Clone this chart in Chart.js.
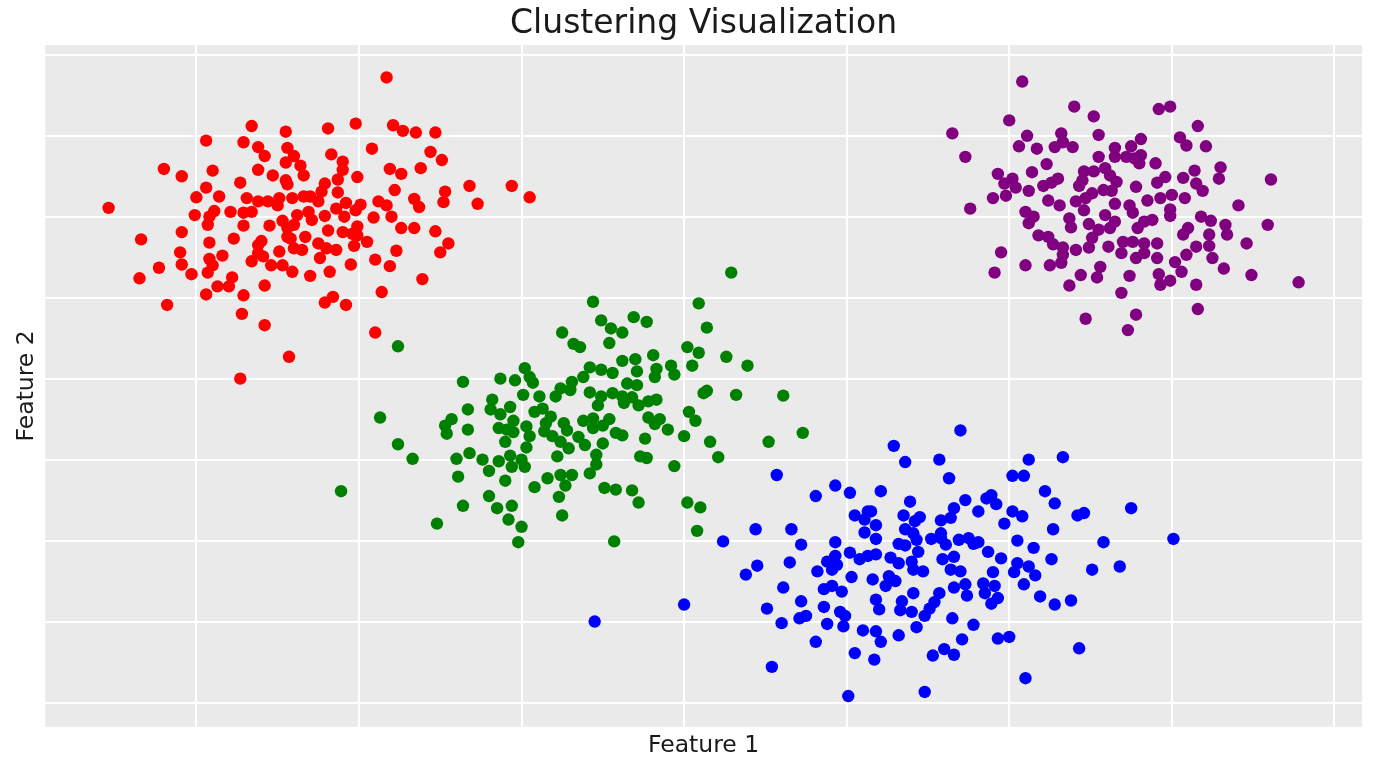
<!DOCTYPE html>
<html>
<head>
<meta charset="utf-8">
<script src="https://cdn.jsdelivr.net/npm/chart.js@4.4.1/dist/chart.umd.min.js"></script>
<style>
  html, body { margin: 0; padding: 0; background: #ffffff; }
  #wrap { width: 1376px; height: 768px; position: relative; }
</style>
</head>
<body>
<div id="wrap"><canvas id="cluster-chart"></canvas></div>
<script>
// cluster labels and points, [feature 1, feature 2]
const clusterNames = ["Cluster 0", "Cluster 1", "Cluster 2", "Cluster 3"];
const clusterColors = ["#ff0000", "#008000", "#0000ff", "#800080"];

const redPoints = [
  [0.34,7.12],[0.55,7.05],[0.06,6.94],[0.29,6.92],[0.38,6.86],[0.42,6.75],[0.56,6.85],[0.60,6.75],[0.55,6.67],[0.64,6.63],
  [0.66,6.51],[-0.20,6.59],[-0.09,6.50],[0.10,6.57],[0.38,6.58],[0.47,6.51],[0.55,6.45],[0.56,6.40],[0.27,6.42],[0.06,6.36],
  [0.00,6.24],[0.14,6.25],[0.31,6.23],[-0.54,6.11],[0.38,6.19],[0.44,6.19],[0.51,6.23],[0.50,6.14],[0.59,6.23],[0.66,6.25],
  [0.70,6.25],[-0.01,6.02],[0.08,6.00],[0.11,6.07],[0.07,5.90],[0.21,6.06],[0.29,6.05],[0.34,6.06],[0.29,5.89],[0.45,5.89],
  [0.53,5.95],[0.62,6.02],[0.69,6.06],[0.71,5.96],[0.56,5.86],[0.60,5.90],[-0.09,5.81],[-0.34,5.72],[0.23,5.73],[0.08,5.68],
  [0.38,5.65],[0.40,5.70],[0.56,5.75],[0.58,5.73],[0.67,5.75],[0.60,5.61],[0.65,5.59],[-0.10,5.56],[0.16,5.52],[0.51,5.57],
  [0.38,5.55],[0.41,5.51],[0.34,5.45],[0.08,5.48],[0.10,5.40],[-0.23,5.37],[-0.09,5.41],[0.07,5.31],[-0.03,5.29],[0.46,5.40],
  [0.53,5.40],[0.59,5.32],[0.70,5.27],[-0.35,5.24],[0.22,5.25],[0.13,5.14],[0.20,5.14],[0.42,5.15],[0.06,5.04],[0.29,5.03],
  [-0.18,4.91],[0.28,4.80],[0.42,4.66],[0.57,4.27],[0.27,4.00],
  [1.17,7.72],[0.81,7.09],[0.98,7.15],[1.21,7.13],[1.27,7.06],[1.35,7.04],[1.47,7.04],[0.83,6.77],[1.08,6.84],[1.44,6.80],
  [1.51,6.70],[0.90,6.68],[0.90,6.58],[0.87,6.46],[0.99,6.49],[1.19,6.59],[1.26,6.53],[1.38,6.60],[0.79,6.41],[0.77,6.31],
  [0.87,6.30],[0.75,6.19],[1.22,6.33],[1.68,6.38],[1.94,6.38],[2.05,6.24],[1.53,6.31],[1.52,6.18],[1.73,6.16],[1.34,6.22],
  [1.37,6.12],[1.12,6.19],[1.17,6.14],[0.86,6.10],[0.92,6.17],[1.01,6.15],[0.98,6.08],[0.79,6.01],[0.91,6.00],[1.09,5.99],
  [1.20,6.00],[1.26,5.86],[1.34,5.86],[1.47,5.82],[1.55,5.67],[1.50,5.56],[0.81,5.83],[0.90,5.81],[0.96,5.79],[0.99,5.88],
  [0.99,5.77],[1.05,5.69],[0.97,5.64],[0.75,5.67],[0.80,5.61],[0.86,5.59],[0.76,5.49],[1.23,5.58],[1.10,5.47],[1.19,5.39],
  [0.95,5.41],[0.82,5.32],[1.39,5.23],[1.14,5.07],[0.84,5.01],[0.79,4.94],[0.92,4.91],[1.10,4.57]
];

const greenPoints = [
  [1.24,4.40],[2.25,4.57],[2.02,4.13],[2.05,4.02],[2.07,3.95],[1.64,3.96],[1.87,4.00],[1.96,3.98],[2.01,3.80],[2.11,3.78],
  [2.21,3.78],[2.24,3.88],[1.82,3.74],[1.81,3.62],[1.93,3.65],[1.87,3.56],[1.67,3.62],[1.57,3.50],[1.53,3.42],[1.54,3.32],
  [1.67,3.37],[1.13,3.52],[1.95,3.48],[1.86,3.39],[1.91,3.37],[1.95,3.34],[2.03,3.41],[2.05,3.29],[2.08,3.59],[2.13,3.63],
  [2.18,3.53],[2.15,3.45],[2.14,3.35],[2.19,3.29],[2.26,3.45],[2.28,3.36],[2.24,3.22],[2.22,3.04],[1.90,3.22],[2.03,3.15],
  [1.24,3.19],[1.33,3.01],[1.68,3.08],[1.60,3.01],[1.76,3.00],[1.86,2.98],[1.93,3.05],[1.94,2.91],[2.00,3.00],[2.02,2.91],
  [1.80,2.86],[1.61,2.79],[1.90,2.74],[2.08,2.66],[2.16,2.77],[2.24,2.81],[2.27,2.68],[0.89,2.61],[1.80,2.55],[2.23,2.54],
  [1.64,2.43],[1.85,2.40],[1.94,2.43],[1.92,2.26],[2.00,2.17],[2.25,2.31],[1.48,2.21],[1.98,1.98],
  [3.29,5.31],[2.44,4.95],[3.09,4.93],[2.49,4.72],[2.55,4.62],[2.62,4.57],[2.69,4.76],[2.77,4.70],[3.14,4.63],[2.54,4.44],
  [2.32,4.43],[2.36,4.39],[2.81,4.29],[3.02,4.39],[3.09,4.32],[3.05,4.16],[3.26,4.27],[3.39,4.16],[2.42,4.14],[2.49,4.11],
  [2.56,4.07],[2.62,4.22],[2.70,4.24],[2.71,4.09],[2.83,4.12],[2.82,4.02],[2.92,4.16],[2.94,4.05],[2.38,4.02],[2.31,3.96],
  [2.30,3.86],[2.42,3.83],[2.49,3.78],[2.56,3.82],[2.65,3.94],[2.71,3.92],[2.62,3.78],[2.68,3.77],[2.47,3.67],[2.63,3.70],
  [2.72,3.67],[2.78,3.72],[2.83,3.74],[3.12,3.82],[3.14,3.85],[3.32,3.80],[3.61,3.79],[3.03,3.59],[3.07,3.48],[2.38,3.48],
  [2.44,3.51],[2.54,3.50],[2.44,3.39],[2.50,3.42],[2.78,3.52],[2.85,3.50],[2.82,3.44],[2.90,3.37],[2.58,3.33],[2.62,3.30],
  [2.35,3.28],[2.39,3.18],[2.29,3.14],[2.50,3.20],[2.76,3.26],[3.00,3.29],[3.16,3.22],[3.52,3.22],[3.73,3.33],[2.46,3.06],
  [2.46,2.94],[2.73,3.04],[2.77,3.02],[3.21,3.03],[2.94,2.92],[2.31,2.81],[2.42,2.83],[2.51,2.65],[2.58,2.63],[2.68,2.62],
  [2.72,2.47],[3.02,2.47],[3.10,2.41],[3.08,2.12],[2.57,1.99]
];

const bluePoints = [
  [3.57,2.81],[3.81,2.55],[3.93,2.68],[4.02,2.59],[4.05,2.31],[4.13,2.36],[4.11,2.26],[4.11,2.10],[3.44,2.14],[3.66,2.14],
  [3.72,1.95],[3.93,1.98],[3.24,1.99],[4.02,1.85],[4.08,1.77],[4.13,1.81],[3.88,1.74],[3.93,1.81],[3.94,1.70],[3.91,1.64],
  [3.65,1.73],[3.82,1.62],[3.45,1.69],[3.38,1.58],[4.03,1.55],[3.61,1.42],[3.86,1.40],[3.91,1.44],[3.97,1.37],[3.72,1.25],
  [3.51,1.16],[3.86,1.18],[3.96,1.12],[3.99,1.07],[3.71,1.04],[3.75,1.07],[3.00,1.21],[2.45,1.00],[3.60,0.98],[3.88,0.97],
  [3.98,0.94],[4.10,0.89],[3.81,0.75],[4.05,0.61],[3.54,0.44],[4.01,0.08],
  [4.70,3.36],[4.29,3.17],[4.36,2.97],[4.57,3.00],[4.63,2.77],[5.12,3.00],[5.33,3.03],[5.02,2.80],[5.09,2.80],[4.21,2.61],
  [5.22,2.61],[5.28,2.46],[4.39,2.48],[4.73,2.50],[4.86,2.52],[4.89,2.56],[4.92,2.45],[4.66,2.40],[4.81,2.36],[5.02,2.36],
  [5.08,2.30],[4.97,2.21],[4.15,2.36],[4.35,2.31],[4.45,2.29],[4.42,2.24],[4.64,2.28],[4.58,2.25],[5.42,2.31],[5.46,2.34],
  [5.75,2.40],[5.27,2.14],[4.18,2.19],[4.36,2.14],[4.41,2.09],[4.58,2.09],[4.18,2.02],[4.32,1.96],[4.36,1.94],[4.43,2.01],
  [4.52,2.02],[4.58,2.03],[4.61,1.95],[4.69,2.01],[4.75,2.03],[4.78,1.96],[4.81,1.98],[5.05,2.00],[5.15,1.91],[5.58,1.98],
  [6.01,2.02],[4.18,1.83],[4.27,1.79],[4.32,1.72],[4.40,1.74],[4.44,1.86],[4.59,1.77],[4.66,1.80],[4.87,1.86],[4.95,1.78],
  [5.05,1.72],[5.26,1.77],[5.68,1.68],[5.51,1.64],[4.41,1.64],[4.47,1.62],[4.64,1.64],[4.70,1.62],[4.90,1.61],[5.03,1.61],
  [5.12,1.68],[5.16,1.57],[4.16,1.52],[4.26,1.56],[4.30,1.50],[4.24,1.44],[4.73,1.46],[4.66,1.42],[4.84,1.47],[4.91,1.44],
  [5.09,1.46],[4.41,1.35],[4.57,1.35],[4.74,1.32],[4.85,1.35],[5.19,1.31],[4.18,1.27],[4.34,1.25],[4.54,1.24],[4.93,1.29],
  [4.89,1.22],[5.28,1.21],[5.38,1.26],[4.20,1.15],[4.33,1.14],[4.40,1.12],[4.51,1.16],[4.48,1.07],[4.65,1.04],[4.43,0.93],
  [4.78,0.96],[4.18,0.88],[4.32,0.83],[4.21,0.75],[4.71,0.78],[4.93,0.79],[5.00,0.81],[4.53,0.58],[4.60,0.66],[4.66,0.59],
  [4.17,0.53],[5.43,0.67],[5.10,0.30],[4.48,0.13]
];

const purplePoints = [
  [5.08,7.67],[5.40,7.36],[5.52,7.24],[5.00,7.19],[4.65,7.03],[5.11,7.00],[5.32,7.03],[5.55,7.01],[5.06,6.87],[5.17,6.84],
  [5.28,6.86],[5.33,6.92],[5.39,6.86],[4.73,6.74],[5.55,6.74],[5.65,6.85],[5.65,6.74],[5.23,6.65],[4.93,6.53],[5.14,6.55],
  [5.02,6.47],[4.97,6.41],[5.04,6.36],[5.21,6.38],[5.26,6.42],[5.30,6.47],[5.46,6.56],[5.52,6.56],[5.45,6.45],[5.43,6.38],
  [5.59,6.60],[5.62,6.51],[5.66,6.43],[4.90,6.23],[4.98,6.26],[5.12,6.32],[4.76,6.10],[5.24,6.20],[5.31,6.14],[5.41,6.19],
  [5.47,6.23],[5.51,6.29],[5.58,6.33],[5.63,6.32],[5.46,6.08],[5.65,6.16],[5.10,6.06],[5.15,6.00],[5.12,5.92],[5.37,5.98],
  [5.38,5.87],[5.49,5.91],[5.59,6.02],[5.62,5.86],[5.65,5.94],[5.55,5.84],[5.51,5.74],[5.18,5.77],[5.24,5.75],[5.27,5.66],
  [5.33,5.62],[5.41,5.59],[5.49,5.62],[5.61,5.63],[4.95,5.56],[5.33,5.53],[5.32,5.43],[5.10,5.40],[5.25,5.40],[4.91,5.31],
  [5.56,5.38],[5.44,5.28],[5.54,5.25],[5.37,5.15],[5.47,4.74],
  [5.92,7.33],[5.99,7.36],[6.16,7.12],[5.81,6.96],[6.05,6.98],[6.09,6.88],[6.21,6.87],[5.75,6.87],[5.72,6.74],[5.77,6.72],
  [5.81,6.76],[5.80,6.66],[5.90,6.66],[6.14,6.57],[6.30,6.61],[6.29,6.47],[6.61,6.46],[5.78,6.37],[5.91,6.42],[5.96,6.49],
  [6.07,6.48],[6.15,6.41],[6.19,6.32],[5.85,6.20],[5.93,6.23],[6.00,6.27],[6.08,6.23],[5.99,6.09],[5.99,6.01],[6.41,6.14],
  [5.74,6.14],[5.76,6.05],[5.79,5.86],[5.83,5.94],[5.88,5.96],[6.18,6.00],[6.24,5.95],[6.33,5.90],[6.34,5.78],[6.59,5.90],
  [6.07,5.78],[6.10,5.86],[6.23,5.78],[5.70,5.69],[5.76,5.69],[5.83,5.67],[5.91,5.67],[5.69,5.55],[5.78,5.49],[5.83,5.55],
  [6.15,5.63],[6.23,5.64],[6.46,5.67],[5.91,5.49],[6.02,5.44],[6.09,5.53],[6.06,5.32],[6.25,5.49],[6.32,5.36],[5.74,5.27],
  [5.92,5.29],[5.93,5.16],[5.99,5.21],[6.15,5.16],[6.49,5.28],[6.78,5.19],[5.69,5.06],[5.78,4.79],[6.16,4.86],[5.73,4.60]
];

const allClusters = [redPoints, greenPoints, bluePoints, purplePoints];

const xRange = [-0.93, 7.17];
const yRange = [-0.3, 8.12];

const textColor = "#1a1a1a";
const panelColor = "#eaeaea";

// grey panel behind the points
const panelBackground = {
    id: "panelBackground",
    beforeDraw(chart) {
        const { ctx, chartArea } = chart;
        ctx.save();
        ctx.fillStyle = panelColor;
        ctx.fillRect(chartArea.left, chartArea.top, chartArea.width, chartArea.height);
        ctx.restore();
    }
};

const datasets = allClusters.map(function (pts, i) {
    return {
        label: clusterNames[i],
        data: pts.map(function (p) { return { x: p[0], y: p[1] }; }),
        backgroundColor: clusterColors[i],
        borderColor: clusterColors[i],
        borderWidth: 0,
        pointRadius: 6.2,
        pointHoverRadius: 6.2
    };
});

const ctx = document.getElementById("cluster-chart").getContext("2d");

new Chart(ctx, {
    type: "scatter",
    data: { datasets: datasets },
    plugins: [panelBackground],
    options: {
        responsive: true,
        maintainAspectRatio: false,
        animation: false,
        layout: {
            padding: { left: 9, right: 14, top: 0, bottom: 4 }
        },
        plugins: {
            legend: { display: false },
            tooltip: { enabled: false },
            title: {
                display: true,
                fullSize: false, // centre over the plot panel
                text: "Clustering Visualization",
                color: textColor,
                font: { family: "DejaVu Sans", size: 33, weight: "normal" },
                padding: { top: 5, bottom: 0.5 }
            }
        },
        scales: {
            x: {
                type: "linear",
                min: xRange[0],
                max: xRange[1],
                border: { display: false },
                grid: { color: "#ffffff", lineWidth: 2, drawTicks: false },
                ticks: { display: false, stepSize: 1, includeBounds: false },
                title: {
                    display: true,
                    text: "Feature 1",
                    color: textColor,
                    font: { family: "DejaVu Sans", size: 23.5 },
                    padding: { top: 5, bottom: 4 }
                }
            },
            y: {
                type: "linear",
                min: yRange[0],
                max: yRange[1],
                border: { display: false },
                grid: { color: "#ffffff", lineWidth: 2, drawTicks: false },
                ticks: { display: false, stepSize: 1, includeBounds: false },
                title: {
                    display: true,
                    text: "Feature 2",
                    color: textColor,
                    font: { family: "DejaVu Sans", size: 23.5 },
                    padding: { top: 4, bottom: 4 }
                }
            }
        }
    }
});
</script>
</body>
</html>
